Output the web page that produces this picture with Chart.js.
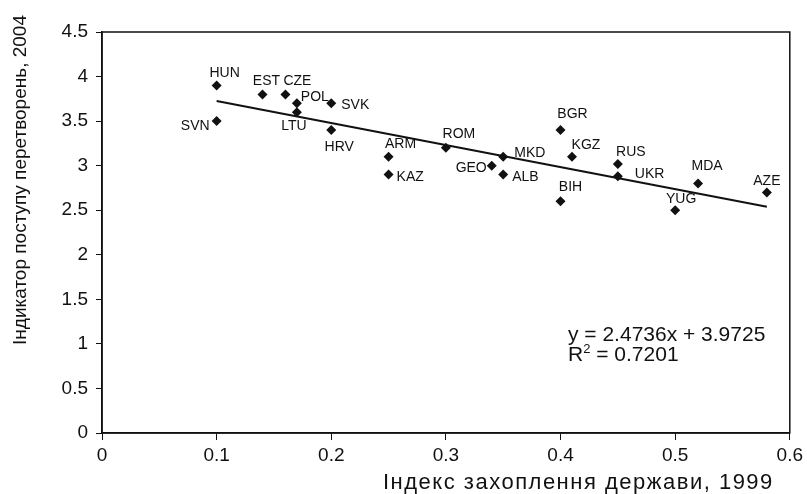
<!DOCTYPE html>
<html>
<head>
<meta charset="utf-8">
<script src="https://cdn.jsdelivr.net/npm/chart.js@4/dist/chart.umd.min.js"></script>
<style>
  html, body { margin: 0; padding: 0; background: #fff; }
  #wrap { width: 807px; height: 494px; }
</style>
</head>
<body>
<div id="wrap"><canvas id="chart" width="807" height="494"></canvas></div>
<script>
// country codes and values
const countries = ['HUN', 'SVN', 'EST', 'CZE', 'POL', 'LTU', 'SVK', 'HRV', 'ARM', 'KAZ', 'ROM',
  'GEO', 'MKD', 'ALB', 'BGR', 'BIH', 'KGZ', 'RUS', 'UKR', 'MDA', 'YUG', 'AZE'];
const captureIndex = [0.10, 0.10, 0.14, 0.16, 0.17, 0.17, 0.20, 0.20, 0.25, 0.25, 0.30,
  0.34, 0.35, 0.35, 0.40, 0.40, 0.41, 0.45, 0.45, 0.52, 0.50, 0.58];
const reformIndex = [3.9, 3.5, 3.8, 3.8, 3.7, 3.6, 3.7, 3.4, 3.1, 2.9, 3.2,
  3.0, 3.1, 2.9, 3.4, 2.6, 3.1, 3.02, 2.88, 2.8, 2.5, 2.7];

const xTickValues = [0, 0.1, 0.2, 0.3, 0.4, 0.5, 0.6];
const yTickValues = [0, 0.5, 1, 1.5, 2, 2.5, 3, 3.5, 4, 4.5];

// regression printed on the chart
const trendSlope = -2.4736;
const trendIntercept = 3.9725;
const trendLabel = 'y = 2.4736x + 3.9725';
const r2Label = '0.7201';

const xTitle = 'Індекс захоплення держави, 1999';
const yTitle = 'Індикатор поступу перетворень, 2004';

// label placement next to each marker (pixels)
const labelOffsets = {
  HUN: [8, -12, 'center'], SVN: [-7, 5, 'right'], EST: [4, -13, 'center'], CZE: [12, -13, 'center'],
  POL: [4, -6, 'left'], LTU: [-3, 14, 'center'], SVK: [10, 2, 'left'], HRV: [8, 17, 'center'],
  ARM: [12, -13, 'center'], KAZ: [8, 3, 'left'], ROM: [13, -14, 'center'], GEO: [-5, 2, 'right'],
  MKD: [11, -4, 'left'], ALB: [9, 3, 'left'], BGR: [12, -16, 'center'], BIH: [10, -14, 'center'],
  KGZ: [14, -12, 'center'], RUS: [13, -12, 'center'], UKR: [17, -2, 'left'], MDA: [9, -17, 'center'],
  YUG: [6, -11, 'center'], AZE: [0, -11, 'center']
};

const FONT = "'Liberation Sans', Arial, Helvetica, sans-serif";
const INK = '#111';

const points = countries.map(function(c, i) {
  return { x: captureIndex[i], y: reformIndex[i], code: c };
});
const xMin = Math.min.apply(null, captureIndex);
const xMax = Math.max.apply(null, captureIndex);
const trendPoints = [
  { x: xMin, y: trendIntercept + trendSlope * xMin },
  { x: xMax, y: trendIntercept + trendSlope * xMax }
];

// Draws country codes, the frame, axis titles and the equation
const annotations = {
  id: 'annotations',
  afterDatasetsDraw: function(chart) {
    const ctx = chart.ctx;
    const area = chart.chartArea;
    const meta = chart.getDatasetMeta(0);

    ctx.save();
    ctx.fillStyle = INK;
    ctx.font = '14px ' + FONT;
    ctx.textBaseline = 'middle';
    meta.data.forEach(function(el, i) {
      const off = labelOffsets[countries[i]] || [8, 0, 'left'];
      ctx.textAlign = off[2];
      ctx.fillText(countries[i], el.x + off[0], el.y + off[1]);
    });

    // frame round the plot area
    ctx.strokeStyle = INK;
    ctx.lineWidth = 1.5;
    ctx.strokeRect(area.left, area.top, area.right - area.left, area.bottom - area.top);

    // equation
    ctx.font = '21px ' + FONT;
    ctx.textAlign = 'left';
    const ex = 568;
    ctx.fillText(trendLabel, ex, 335);
    ctx.fillText('R', ex, 355);
    let w = ctx.measureText('R').width;
    ctx.font = '13px ' + FONT;
    ctx.fillText('2', ex + w, 349);
    w += ctx.measureText('2').width;
    ctx.font = '21px ' + FONT;
    ctx.fillText(' = ' + r2Label, ex + w, 355);

    // axis titles
    ctx.font = '22px ' + FONT;
    ctx.letterSpacing = '1.5px';
    ctx.textAlign = 'left';
    ctx.fillText(xTitle, 383, 483);
    ctx.letterSpacing = '0px';

    ctx.font = '19px ' + FONT;
    ctx.translate(21, 180);
    ctx.rotate(-Math.PI / 2);
    ctx.textAlign = 'center';
    ctx.fillText(yTitle, 0, 0);
    ctx.restore();
  }
};

new Chart(document.getElementById('chart').getContext('2d'), {
  type: 'scatter',
  data: {
    datasets: [{
      label: 'countries',
      data: points,
      pointStyle: 'rectRot',
      pointRadius: 5,
      pointBackgroundColor: INK,
      pointBorderColor: INK,
      pointBorderWidth: 0,
      showLine: false
    }, {
      label: 'trend',
      type: 'line',
      data: trendPoints,
      borderColor: INK,
      borderWidth: 2,
      pointRadius: 0,
      fill: false
    }]
  },
  options: {
    responsive: false,
    animation: false,
    layout: { padding: { top: 32, right: 16, left: 0, bottom: 0 } },
    plugins: {
      legend: { display: false },
      tooltip: { enabled: false }
    },
    scales: {
      x: {
        type: 'linear',
        min: 0,
        max: 0.6,
        afterBuildTicks: function(axis) {
          axis.ticks = xTickValues.map(function(v) { return { value: v }; });
        },
        afterFit: function(axis) { axis.height = 61; },
        ticks: {
          color: INK,
          font: { family: FONT, size: 19 },
          padding: 4,
          callback: function(v) { return String(v); }
        },
        grid: { drawOnChartArea: false, tickLength: 7, color: INK, tickColor: INK },
        border: { color: INK, width: 1.5 }
      },
      y: {
        min: 0,
        max: 4.5,
        afterBuildTicks: function(axis) {
          axis.ticks = yTickValues.map(function(v) { return { value: v }; });
        },
        afterFit: function(axis) { axis.width = 102; },
        ticks: {
          color: INK,
          font: { family: FONT, size: 19 },
          padding: 8,
          callback: function(v) { return String(v); }
        },
        grid: { drawOnChartArea: false, tickLength: 6, color: INK, tickColor: INK },
        border: { color: INK, width: 1.5 }
      }
    }
  },
  plugins: [annotations]
});
</script>
</body>
</html>
